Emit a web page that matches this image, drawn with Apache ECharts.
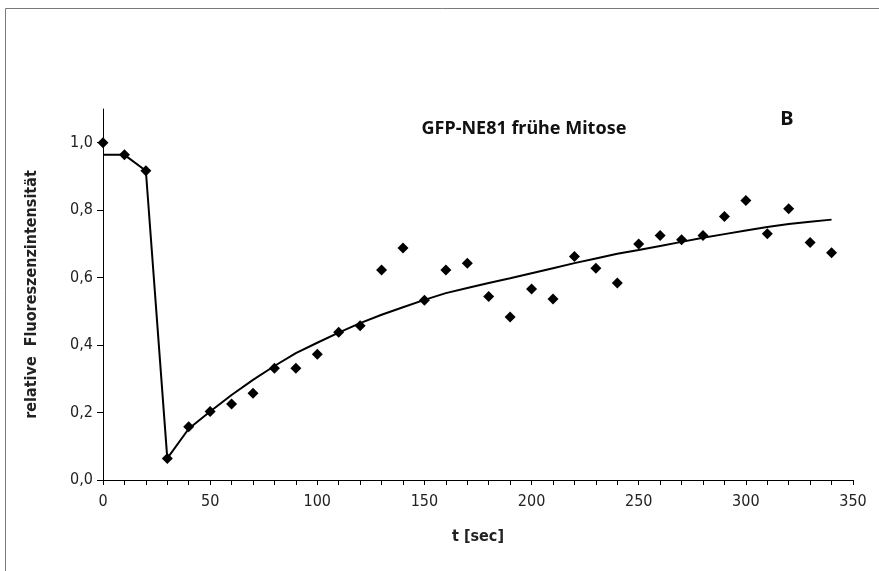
<!DOCTYPE html>
<html>
<head>
<meta charset="utf-8">
<script src="https://cdn.jsdelivr.net/npm/echarts@6/dist/echarts.min.js"></script>
<style>
html,body{margin:0;padding:0;background:#fff;}
#chart{width:879px;height:571px;}
</style>
</head>
<body>
<div id="chart"></div>
<script>
// Measured data points (t in sec, relative fluorescence intensity)
const timeSec = [0,10,20,30,40,50,60,70,80,90,100,110,120,130,140,150,160,170,180,190,200,210,220,230,240,250,260,270,280,290,300,310,320,330,340];
const intensity = [1.0,0.964,0.917,0.064,0.158,0.203,0.225,0.257,0.331,0.331,0.373,0.438,0.457,0.623,0.688,0.533,0.623,0.643,0.544,0.483,0.566,0.537,0.663,0.628,0.584,0.700,0.725,0.712,0.725,0.781,0.829,0.730,0.804,0.704,0.674];

// Fit curve
const fitTime = [0,10,20,30,40,50,60,70,80,90,100,110,120,130,140,150,160,170,180,190,200,210,220,230,240,250,260,270,280,290,300,310,320,330,340];
const fitValue = [0.964,0.964,0.917,0.064,0.152,0.203,0.252,0.297,0.338,0.376,0.407,0.437,0.465,0.490,0.512,0.534,0.554,0.569,0.584,0.598,0.613,0.628,0.643,0.657,0.671,0.682,0.694,0.706,0.718,0.729,0.740,0.750,0.759,0.766,0.772];

const yTickValues = [0,0.2,0.4,0.6,0.8,1.0];
const titleText = 'GFP-NE81 frühe Mitose';
const panelLabel = 'B';
const xAxisName = 't [sec]';
const yAxisName = 'relative  Fluoreszenzintensität';

const scatterData = timeSec.map((t,i)=>[t,intensity[i]]);
const fitData = fitTime.map((t,i)=>[t,fitValue[i]]);

const narrow = "'DejaVu Sans Condensed','Liberation Sans Narrow',sans-serif";
const chart = echarts.init(document.getElementById('chart'), null, {renderer:'canvas'});
chart.setOption({
  animation:false,
  backgroundColor:'#fff',
  graphic:[
    {type:'rect', shape:{x:5.5,y:8.5,width:900,height:600}, style:{fill:'none',stroke:'#7a7a7a',lineWidth:1}, z:-1},
    {type:'text', style:{text:titleText, x:524, y:129, align:'center', verticalAlign:'middle', font:"bold 18px 'Noto Sans',sans-serif", fill:'#111'}},
    {type:'text', style:{text:panelLabel, x:787, y:119, align:'center', verticalAlign:'middle', font:"bold 20px 'Noto Sans',sans-serif", fill:'#111'}}
  ],
  grid:{left:103, right:26, top:109, bottom:91, containLabel:false},
  xAxis:{
    type:'value', min:0, max:350, interval:50,
    name:xAxisName, nameLocation:'middle', nameGap:49,
    nameTextStyle:{fontFamily:narrow, fontWeight:'bold', fontSize:16, color:'#222'},
    axisLine:{show:true, lineStyle:{color:'#000', width:1}},
    axisTick:{show:true, length:5, lineStyle:{color:'#000'}},
    minorTick:{show:true, splitNumber:5, length:5, lineStyle:{color:'#000'}},
    axisLabel:{fontFamily:narrow, fontSize:16, color:'#222', margin:14},
    splitLine:{show:false}
  },
  yAxis:{
    type:'value', min:0, max:1.1,
    name:yAxisName, nameLocation:'middle', nameGap:63, nameRotate:90,
    nameTextStyle:{fontFamily:narrow, fontWeight:'bold', fontSize:16, color:'#222'},
    axisLine:{show:true, lineStyle:{color:'#000', width:1}},
    axisTick:{show:true, length:6, customValues:yTickValues, lineStyle:{color:'#000'}},
    axisLabel:{fontFamily:narrow, fontSize:16, color:'#222', margin:10, customValues:yTickValues,
      formatter:v=>v.toFixed(1).replace('.',',')},
    splitLine:{show:false}
  },
  series:[
    {type:'line', data:fitData, showSymbol:false, symbol:'none', smooth:false,
     lineStyle:{color:'#000', width:2}, z:2},
    {type:'scatter', data:scatterData, symbol:'diamond', symbolSize:11,
     itemStyle:{color:'#000', opacity:1}, z:3}
  ]
});
</script>
</body>
</html>
